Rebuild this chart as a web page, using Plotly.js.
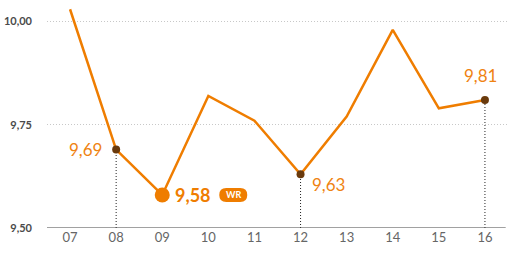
<!DOCTYPE html>
<html><head><meta charset="utf-8">
<script src="https://cdn.plot.ly/plotly-3.0.1.min.js"></script>
<style>html,body{margin:0;padding:0;background:#fff}#c{width:520px;height:260px}</style>
</head><body><div id="c"></div>
<script>
const years = ["07","08","09","10","11","12","13","14","15","16"];
const times = [10.03, 9.69, 9.58, 9.82, 9.76, 9.63, 9.77, 9.98, 9.79, 9.81];
const markedYears = ["08","12","16"];
const markedTimes = [9.69, 9.63, 9.81];
const markedLabels = ["9,69","9,63","9,81"];
const recordYear = "09";
const recordTime = 9.58;
const recordLabel = "9,58";
const yTicks = [9.5, 9.75, 10.0];
const yTickText = ["9,50","9,75","10,00"];

const orange = "#ef7d00";
const labelOrange = "#ef8312";
const brown = "#6a3a0c";
const idx = yr => years.indexOf(yr);

const traces = [
  {x: years, y: times, type: "scatter", mode: "lines",
   line: {color: orange, width: 2.5}, hoverinfo: "skip"},
  {x: markedYears, y: markedTimes, type: "scatter", mode: "markers",
   marker: {color: brown, size: 8}, hoverinfo: "skip"},
  {x: [recordYear], y: [recordTime], type: "scatter", mode: "markers",
   marker: {color: orange, size: 15}, hoverinfo: "skip"}
];

const shapes = markedYears.map((yr, i) => ({
  type: "line", xref: "x", yref: "y", x0: idx(yr), x1: idx(yr), y0: 9.5, y1: markedTimes[i],
  line: {color: "#222", width: 1, dash: "1px,2px"}, layer: "below"
}));
shapes.push({
  type: "path", xref: "x", yref: "y", xsizemode: "pixel", ysizemode: "pixel",
  xanchor: idx(recordYear), yanchor: recordTime,
  path: "M 64,-7 L 78,-7 Q 85,-7 85,0 Q 85,7 78,7 L 64,7 Q 57,7 57,0 Q 57,-7 64,-7 Z",
  fillcolor: orange, line: {width: 0}
});
shapes.push({type: "line", xref: "paper", yref: "y", x0: 0, x1: 0.995, y0: 9.5, y1: 9.5,
    line: {color: "#444", width: 1.2}});

const labelPos = [
  {xanchor: "right", yanchor: "middle", xshift: -12, yshift: 0},
  {xanchor: "left", yanchor: "middle", xshift: 9, yshift: -10},
  {xanchor: "center", yanchor: "bottom", xshift: -4, yshift: 12}
];
const annotations = markedYears.map((yr, i) => Object.assign({
  x: idx(yr), y: markedTimes[i], text: markedLabels[i], showarrow: false,
  font: {family: "Lato", size: 17, color: labelOrange}
}, labelPos[i]));
annotations.push({
  x: idx(recordYear), y: recordTime, text: "<b>" + recordLabel + "</b>", showarrow: false,
  xanchor: "left", yanchor: "middle", xshift: 11, yshift: 0,
  font: {family: "Lato", size: 18, color: orange}
});
annotations.push({
  x: idx(recordYear), y: recordTime, text: "<b>WR</b>", showarrow: false,
  xanchor: "center", yanchor: "middle", xshift: 71, yshift: 0,
  font: {family: "Lato", size: 9, color: "#fff"}
});

const layout = {
  width: 520, height: 260,
  margin: {l: 47, r: 12, t: 1, b: 32},
  paper_bgcolor: "#fff", plot_bgcolor: "#fff",
  showlegend: false,
  xaxis: {type: "category", range: [-0.5, 9.5], showgrid: false, zeroline: false,
          showline: false, ticks: "", tickfont: {family: "Lato", size: 13, color: "#666"},
          fixedrange: true},
  yaxis: {range: [9.5, 10.05], tickvals: yTicks, ticktext: yTickText,
          showgrid: true, gridcolor: "#c8c8c8", griddash: "1px,2px", gridwidth: 1,
          zeroline: false, showline: false, ticks: "", ticklabelstandoff: 14,
          tickfont: {family: "Lato", size: 11, color: "#4a4a4a", weight: "bold"},
          fixedrange: true},
  shapes: shapes,
  annotations: annotations
};

Plotly.newPlot("c", traces, layout, {displayModeBar: false, staticPlot: true});
</script></body></html>
